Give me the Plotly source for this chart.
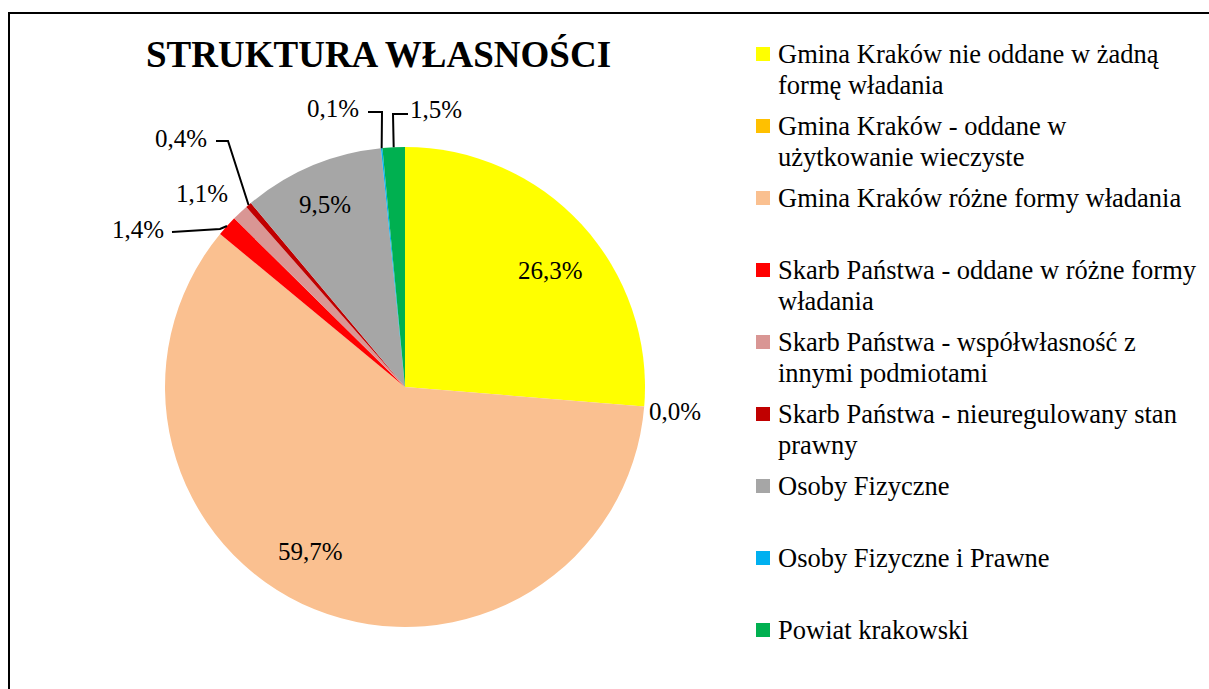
import math
import plotly.graph_objects as go

# ---------------- data ----------------
categories = [
    "Gmina Kraków nie oddane w żadną formę władania",
    "Gmina Kraków - oddane w użytkowanie wieczyste",
    "Gmina Kraków różne formy władania",
    "Skarb Państwa - oddane w różne formy władania",
    "Skarb Państwa - współwłasność z innymi podmiotami",
    "Skarb Państwa - nieuregulowany stan prawny",
    "Osoby Fizyczne",
    "Osoby Fizyczne i Prawne",
    "Powiat krakowski",
]
shares = [26.3, 0.0, 59.7, 1.4, 1.1, 0.4, 9.5, 0.1, 1.5]
legend_lines = [
    ["Gmina Kraków nie oddane w żadną", "formę władania"],
    ["Gmina Kraków - oddane w", "użytkowanie wieczyste"],
    ["Gmina Kraków różne formy władania"],
    ["Skarb Państwa - oddane w różne formy", "władania"],
    ["Skarb Państwa - współwłasność z", "innymi podmiotami"],
    ["Skarb Państwa - nieuregulowany stan", "prawny"],
    ["Osoby Fizyczne"],
    ["Osoby Fizyczne i Prawne"],
    ["Powiat krakowski"],
]
title_text = "STRUKTURA WŁASNOŚCI"

# ---------------- styles / layout ----------------
colors = ["#FFFF00", "#FFC000", "#FAC090", "#FF0000", "#D99694",
          "#C00000", "#A6A6A6", "#00B0F0", "#00B050"]
W, H = 1209, 689
CX, CY, R = 405, 387, 240
FONT = "Liberation Serif"

# label centre positions (pixels)
label_pos = {0: (550, 270), 1: (675, 411), 2: (310, 551), 3: (138, 229),
             4: (202, 193), 5: (181, 138), 6: (325, 204), 7: (333, 108),
             8: (436, 109)}
# leader lines: label-side start point and elbow (pixels); pie end computed from data
leaders = {3: [(172, 232), (220, 229)],
           5: [(216, 141), (228, 141)],
           7: [(368, 112), (382, 112)],
           8: [(408, 114), (393, 114)]}


def px(x):
    return x / W


def py(y):
    return 1 - y / H


fig = go.Figure()
fig.add_trace(go.Pie(
    labels=categories,
    values=shares,
    sort=False,
    direction="clockwise",
    rotation=0,
    marker=dict(colors=colors, line=dict(width=0)),
    textinfo="none",
    hoverinfo="label+percent",
    showlegend=False,
    domain=dict(x=[px(CX - R), px(CX + R)], y=[py(CY + R), py(CY - R)]),
))

annotations = []
shapes = []

# frame
shapes.append(dict(type="rect", xref="paper", yref="paper",
                   x0=px(9), x1=1.05, y0=-0.05, y1=py(13),
                   line=dict(color="black", width=2), fillcolor="rgba(0,0,0,0)"))

# title
annotations.append(dict(text="<b>" + title_text + "</b>", x=px(378), y=py(54),
                        xref="paper", yref="paper", showarrow=False,
                        xanchor="center", yanchor="middle",
                        font=dict(family=FONT, size=37, color="black")))

# data labels
total = sum(shares)
cum = 0.0
for i, v in enumerate(shares):
    mid = (cum + v / 2) / total * 2 * math.pi
    cum += v
    lx, ly = label_pos[i]
    annotations.append(dict(text=f"{v:.1f}".replace(".", ",") + "%",
                            x=px(lx), y=py(ly), xref="paper", yref="paper",
                            showarrow=False, xanchor="center", yanchor="middle",
                            font=dict(family=FONT, size=25, color="black")))
    if i in leaders:
        (sx, sy), (ex, ey) = leaders[i]
        tx = CX + R * math.sin(mid)
        ty = CY - R * math.cos(mid)
        path = f"M {px(sx)},{py(sy)} L {px(ex)},{py(ey)} L {px(tx)},{py(ty)}"
        shapes.append(dict(type="path", xref="paper", yref="paper", path=path,
                           line=dict(color="black", width=2)))

# custom legend
for i, lines in enumerate(legend_lines):
    yc = 54 + 72 * i
    shapes.append(dict(type="rect", xref="paper", yref="paper",
                       x0=px(756), x1=px(770), y0=py(yc + 7), y1=py(yc - 7),
                       line=dict(width=0), fillcolor=colors[i]))
    for j, line in enumerate(lines):
        annotations.append(dict(text=line, x=px(776), y=py(yc + 31 * j),
                                xref="paper", yref="paper", showarrow=False,
                                xanchor="left", yanchor="middle",
                                font=dict(family=FONT, size=26.5, color="black")))

fig.update_layout(
    width=W, height=H,
    margin=dict(l=0, r=0, t=0, b=0),
    paper_bgcolor="white", plot_bgcolor="white",
    annotations=annotations, shapes=shapes,
    font=dict(family=FONT),
)

fig.write_html("out.html")
